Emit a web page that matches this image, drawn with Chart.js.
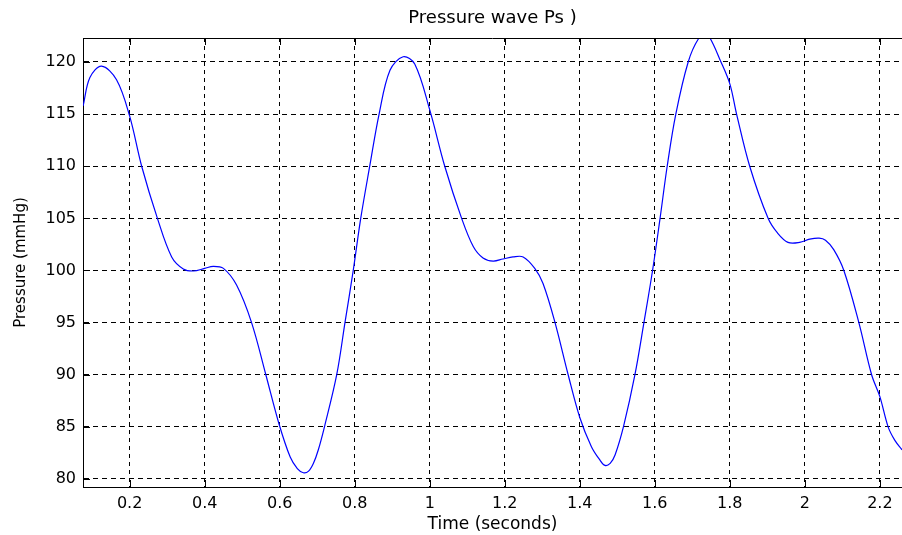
<!DOCTYPE html>
<html>
<head>
<meta charset="utf-8">
<script src="https://cdn.jsdelivr.net/npm/chart.js@4"></script>
<style>
  html, body { margin: 0; padding: 0; background: #fff; }
  #wrap { width: 902px; height: 535px; }
</style>
</head>
<body>
<div id="wrap"><canvas id="chart"></canvas></div>
<script>
// values
const times = [
  0.076, 0.094, 0.125, 0.165, 0.200, 0.232, 0.274, 0.312, 0.343, 0.370,
  0.400, 0.423, 0.450, 0.485, 0.525, 0.563, 0.598, 0.628, 0.647, 0.663,
  0.677, 0.690, 0.703, 0.720, 0.752, 0.774, 0.796, 0.816, 0.840, 0.865,
  0.894, 0.929, 0.960, 1.000, 1.040, 1.085, 1.116, 1.142, 1.169, 1.195,
  1.222, 1.249, 1.280, 1.302, 1.334, 1.369, 1.400, 1.431, 1.452, 1.467,
  1.481, 1.494, 1.517, 1.547, 1.571, 1.594, 1.614, 1.633, 1.656, 1.689,
  1.716, 1.735, 1.747, 1.774, 1.800, 1.818, 1.853, 1.902, 1.927, 1.955,
  1.986, 2.013, 2.038, 2.055, 2.077, 2.104, 2.144, 2.178, 2.200, 2.222,
  2.240, 2.259
];
const pressure = [
  115.8, 118.5, 119.6, 118.3, 114.8, 110.0, 105.0, 101.3, 100.15, 99.95,
  100.2, 100.4, 100.2, 98.6, 95.0, 90.0, 85.3, 82.1, 81.0, 80.6,
  80.75, 81.5, 82.8, 85.1, 90.0, 95.0, 100.0, 105.0, 110.0, 115.0,
  119.2, 120.5, 119.8, 115.4, 110.0, 105.0, 102.3, 101.2, 100.9, 101.1,
  101.3, 101.3, 100.2, 98.75, 95.0, 90.0, 85.9, 83.1, 81.9, 81.3,
  81.5, 82.3, 85.1, 90.0, 95.0, 100.0, 105.0, 110.0, 115.0, 120.0,
  122.2, 122.6, 122.3, 120.2, 117.9, 115.0, 110.0, 105.0, 103.6, 102.7,
  102.7, 103.0, 103.1, 102.9, 102.0, 100.0, 95.0, 90.0, 87.9, 85.0,
  83.7, 82.8
];
const xTicks = [0.2, 0.4, 0.6, 0.8, 1, 1.2, 1.4, 1.6, 1.8, 2, 2.2];
const yTicks = [80, 85, 90, 95, 100, 105, 110, 115, 120];

const FONT = "'DejaVu Sans', Arial, sans-serif";

// top frame line + inward tick marks, matlab style
const framePlugin = {
  id: 'frame',
  afterDraw: (chart) => {
    const { ctx, chartArea: a, scales: { x, y } } = chart;
    ctx.save();
    ctx.strokeStyle = '#000';
    ctx.lineWidth = 1;
    ctx.setLineDash([]);
    ctx.beginPath();
    ctx.moveTo(a.left, a.top + 0.5);
    ctx.lineTo(a.right, a.top + 0.5);
    xTicks.forEach(v => {
      const px = Math.round(x.getPixelForValue(v)) + 0.5;
      ctx.moveTo(px, a.bottom);
      ctx.lineTo(px, a.bottom - 7);
      ctx.moveTo(px, a.top);
      ctx.lineTo(px, a.top + 7);
    });
    yTicks.forEach(v => {
      const py = Math.round(y.getPixelForValue(v)) + 0.5;
      ctx.moveTo(a.left, py);
      ctx.lineTo(a.left + 7, py);
    });
    ctx.stroke();
    ctx.restore();
  }
};

new Chart(document.getElementById('chart'), {
  type: 'line',
  data: {
    datasets: [{
      data: times.map((t, i) => ({ x: t, y: pressure[i] })),
      borderColor: '#0000ff',
      borderWidth: 1.2,
      pointRadius: 0,
      tension: 0.35,
      fill: false
    }]
  },
  options: {
    responsive: true,
    maintainAspectRatio: false,
    animation: false,
    layout: { padding: 0 },
    plugins: {
      legend: { display: false },
      tooltip: { enabled: false },
      title: {
        display: true,
        fullSize: false,
        text: 'Pressure wave Ps )',
        color: '#000',
        font: { family: FONT, size: 18, weight: 'normal', lineHeight: 1.2 },
        padding: { top: 8, bottom: 8.4 }
      }
    },
    scales: {
      x: {
        type: 'linear',
        min: 0.0756,
        max: 2.259,
        afterBuildTicks: (s) => { s.ticks = xTicks.map(v => ({ value: v })); },
        afterFit: (s) => { s.height = 48; },
        grid: { color: '#000', lineWidth: 1, drawTicks: false },
        border: { display: true, color: '#000', width: 1, dash: [4, 4] },
        ticks: {
          color: '#000',
          padding: 7,
          maxRotation: 0,
          font: { family: FONT, size: 16 },
          callback: (v) => String(v)
        },
        title: {
          display: true,
          text: 'Time (seconds)',
          color: '#000',
          font: { family: FONT, size: 17 },
          padding: { top: 0, bottom: 0 }
        }
      },
      y: {
        type: 'linear',
        min: 79.23,
        max: 122.3,
        afterBuildTicks: (s) => { s.ticks = yTicks.map(v => ({ value: v })); },
        afterFit: (s) => { s.width = 83; },
        grid: { color: '#000', lineWidth: 1, drawTicks: false },
        border: { display: true, color: '#000', width: 1, dash: [5, 4] },
        ticks: {
          color: '#000',
          padding: 7,
          font: { family: FONT, size: 16 }
        },
        title: {
          display: true,
          text: 'Pressure (mmHg)',
          color: '#000',
          font: { family: FONT, size: 15 },
          padding: { top: 12, bottom: 0 }
        }
      }
    }
  },
  plugins: [framePlugin]
});
</script>
</body>
</html>
